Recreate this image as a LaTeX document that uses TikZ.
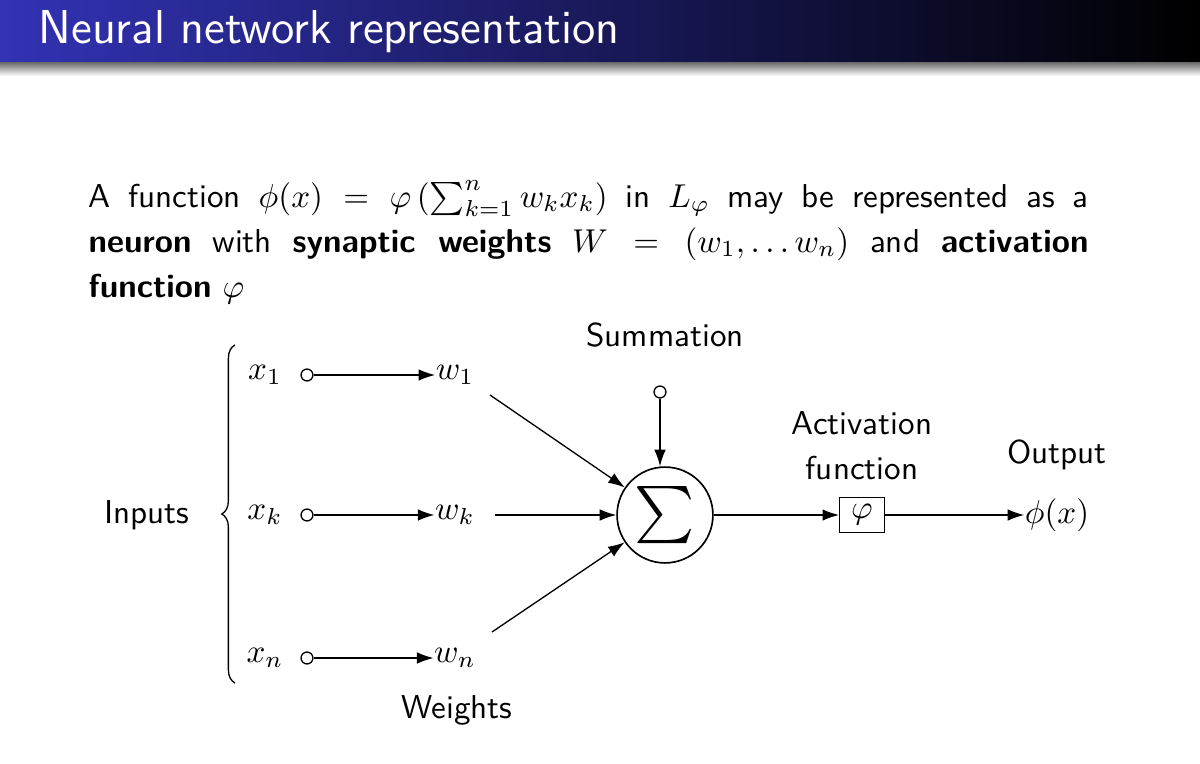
\documentclass[tikz,border=0pt]{standalone}
\usetikzlibrary{arrows.meta,decorations.pathreplacing}
\usepackage{amsmath}
\renewcommand{\familydefault}{\sfdefault}
\begin{document}
\begin{tikzpicture}[x=0.3025pt,y=-0.3025pt,
  lbl/.style={inner sep=0pt,font=\normalsize},
  arr/.style={-{Latex[length=5pt,width=3.5pt]},line width=0.4pt},
  inp/.style={circle,draw,inner sep=0pt,minimum size=3.6pt,line width=0.4pt}]
\useasboundingbox (0,0) rectangle (1200,764);
\shade[left color={rgb,255:red,50;green,50;blue,180},right color=black] (0,0) rectangle (1200,63);
\shade[top color=black!55,bottom color=white] (0,63) rectangle (1200,76);
\node[anchor=base west,text=white,font=\Large,inner sep=0pt] (title) at (38,44) {Neural network representation};
\node[anchor=base west,inner sep=0pt] (l1) at (88,207) {\hbox to 302.5pt{A function $\phi(x)=\varphi\left(\sum_{k=1}^n w_kx_k\right)$ in $L_\varphi$ may be represented as a}};
\node[anchor=base west,inner sep=0pt] (l2) at (88,252) {\hbox to 302.5pt{\textbf{neuron} with \textbf{synaptic weights} $W=(w_1,\ldots w_n)$ and \textbf{activation}}};
\node[anchor=base west,inner sep=0pt] (l3) at (88,297) {\textbf{function} $\varphi$};
% inputs
\foreach \n/\y/\s in {1/375/1,k/515/k,n/658/n}{
  \node[lbl] (x\n) at (265,\y) {$x_\s$};
  \node[inp] (c\n) at (307,\y) {};
  \node[lbl] (w\n) at (455,\y) {$w_\s$};
  \draw[arr] (c\n) -- (w\n.west);
}
\node[circle,draw,minimum size=29pt,inner sep=0pt,line width=0.5pt] (S) at (665,515) {\LARGE$\sum$};
\node[lbl] (sum) at (665,335) {Summation};
\node[inp] (b) at (660,392) {};
\draw[arr] (b) -- (b|-S.north);
\coordinate (a1) at (490,395);
\coordinate (ak) at (495,515);
\coordinate (an) at (492,632);
\draw[arr] (a1) -- (S);
\draw[arr] (ak) -- (S);
\draw[arr] (an) -- (S);
\node[draw,lbl,minimum width=13.5pt,minimum height=10.5pt,line width=0.4pt] (phi) at (862,515) {$\varphi$};
\draw[arr] (S) -- (phi);
\node[lbl] (act1) at (862,423) {Activation};
\node[lbl] (act2) at (862,468) {function};
\node[lbl] (out) at (1057,455) {Output};
\node[lbl] (px) at (1057,515) {$\phi(x)$};
\draw[arr] (phi) -- (px.west);
\node[lbl] (inputs) at (147,515) {Inputs};
\draw[decorate,decoration={brace,amplitude=4pt},line width=0.4pt] (235,683) -- (235,345);
\node[lbl] (weights) at (457,710) {Weights};
\end{tikzpicture}
\end{document}
